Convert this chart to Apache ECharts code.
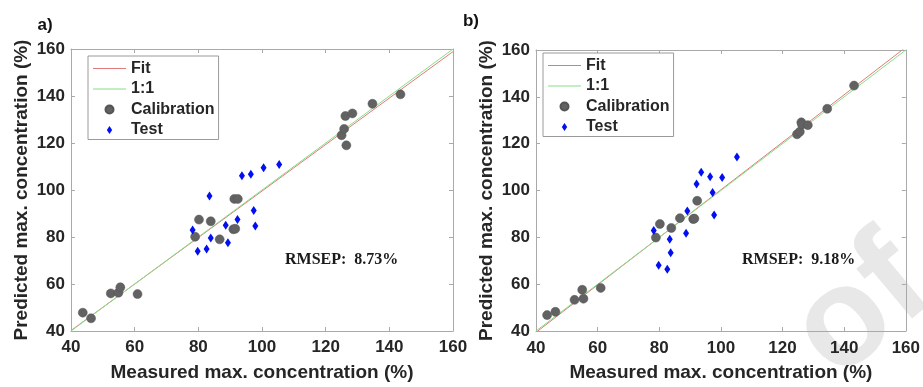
<!DOCTYPE html>
<html>
<head>
<meta charset="utf-8">
<script src="https://cdn.jsdelivr.net/npm/echarts@6/dist/echarts.min.js"></script>
<style>
html,body{margin:0;padding:0;background:#fff;}
#chart{width:923px;height:387px;}
</style>
</head>
<body>
<div id="chart"></div>
<script>
// ---- data ----
const panelLabels = ['a)', 'b)'];
const rmsepLabels = ['RMSEP:  8.73%', 'RMSEP:  9.18%'];
const xTitle = 'Measured max. concentration (%)';
const yTitle = 'Predicted max. concentration (%)';
const legendNames = ['Fit', '1:1', 'Calibration', 'Test'];

const calA = [[43.7,47.8],[46.3,45.4],[52.5,56.0],[54.9,56.3],[55.5,58.6],[60.9,55.7],[79.0,80.1],[80.2,87.4],[83.9,86.7],[86.7,79.0],[91.0,83.3],[91.6,83.5],[91.3,96.2],[92.4,96.2],[125.0,123.3],[125.8,126.0],[126.2,131.5],[126.5,119.0],[128.4,132.6],[134.7,136.7],[143.5,140.7]];
const testA = [[78.2,83.0],[79.8,73.9],[82.6,74.9],[83.5,97.4],[83.9,79.6],[88.6,85.0],[89.3,77.6],[92.3,87.4],[93.7,106.1],[96.5,106.7],[97.4,91.3],[97.9,84.7],[100.5,109.5],[105.4,110.8]];
const fitA = [[40,40.2],[160,158.9]];

const calB = [[43.6,46.8],[46.3,48.2],[52.5,53.3],[55.0,57.6],[55.4,53.8],[61.0,58.4],[78.9,79.9],[80.2,85.7],[83.9,84.0],[86.7,88.2],[91.0,87.8],[91.4,88.0],[92.3,95.6],[124.7,124.0],[125.6,125.1],[126.1,129.1],[126.3,128.2],[128.2,127.9],[134.5,134.9],[143.2,144.8]];
const testB = [[78.2,82.9],[79.8,68.1],[82.6,66.4],[83.4,79.2],[83.7,73.4],[88.7,81.7],[89.1,91.2],[92.1,102.8],[93.6,107.8],[96.5,105.9],[97.3,99.1],[97.8,89.5],[100.4,105.6],[105.2,114.3]];
const fitB = [[40,39.4],[160,161.2]];

const oneToOne = [[40,40],[160,160]];
const axisMin = 40, axisMax = 160, axisStep = 20;

// ---- styling ----
const AX = '#a9a9a9';
const TXT = '#262626';
const SANS = 'Liberation Sans, Arial, sans-serif';
const FIT_C = '#e07a7a';
const ONE_C = '#86df86';
const CAL_C = '#626262';
const TEST_C = '#0010f0';
const diamond = 'path://M3,0L6,4.5L3,9L0,4.5Z';
const lineIcon = 'path://M0,0H33V1.2H0Z';

const grids = [
  {left: 71, top: 49, width: 382, height: 282},
  {left: 536, top: 50, width: 374, height: 288}
];

function xAxes(gi, labelMargin) {
  return [
    {gridIndex: gi, type: 'value', min: axisMin, max: axisMax, interval: axisStep, position: 'bottom',
     name: xTitle, nameLocation: 'middle', nameGap: 32,
     nameTextStyle: {color: TXT, fontFamily: SANS, fontWeight: 'bold', fontSize: 19},
     axisLine: {show: true, lineStyle: {color: AX, width: 1}},
     axisTick: {show: true, inside: true, length: 4, lineStyle: {color: AX}},
     axisLabel: {color: TXT, fontFamily: SANS, fontWeight: 'bold', fontSize: 17, margin: labelMargin},
     splitLine: {show: false}},
    {gridIndex: gi, type: 'value', min: axisMin, max: axisMax, interval: axisStep, position: 'top',
     axisLine: {show: true, lineStyle: {color: AX, width: 1}},
     axisTick: {show: true, inside: true, length: 4, lineStyle: {color: AX}},
     axisLabel: {show: false}, splitLine: {show: false}}
  ];
}
function yAxes(gi, nameGap) {
  return [
    {gridIndex: gi, type: 'value', min: axisMin, max: axisMax, interval: axisStep, position: 'left',
     name: yTitle, nameLocation: 'middle', nameGap: nameGap,
     nameTextStyle: {color: TXT, fontFamily: SANS, fontWeight: 'bold', fontSize: 19},
     axisLine: {show: true, lineStyle: {color: AX, width: 1}},
     axisTick: {show: true, inside: true, length: 4, lineStyle: {color: AX}},
     axisLabel: {color: TXT, fontFamily: SANS, fontWeight: 'bold', fontSize: 17, margin: 6},
     splitLine: {show: false}},
    {gridIndex: gi, type: 'value', min: axisMin, max: axisMax, interval: axisStep, position: 'right',
     axisLine: {show: true, lineStyle: {color: AX, width: 1}},
     axisTick: {show: true, inside: true, length: 4, lineStyle: {color: AX}},
     axisLabel: {show: false}, splitLine: {show: false}}
  ];
}

function panelSeries(gi, fit, cal, test) {
  const xi = gi * 2, yi = gi * 2;
  return [
    {name: 'Fit', type: 'line', xAxisIndex: xi, yAxisIndex: yi, data: fit, symbol: 'none', showSymbol: false,
     color: FIT_C, lineStyle: {color: FIT_C, width: 1}, itemStyle: {color: FIT_C}, z: 2, silent: true},
    {name: '1:1', type: 'line', xAxisIndex: xi, yAxisIndex: yi, data: oneToOne, symbol: 'none', showSymbol: false,
     color: ONE_C, lineStyle: {color: ONE_C, width: 1}, itemStyle: {color: ONE_C}, z: 3, silent: true},
    {name: 'Calibration', type: 'scatter', xAxisIndex: xi, yAxisIndex: yi, data: cal, symbol: 'circle',
     symbolSize: 9, itemStyle: {color: CAL_C, opacity: 1, borderColor: '#555', borderWidth: 0.5}, z: 4},
    {name: 'Test', type: 'scatter', xAxisIndex: xi, yAxisIndex: yi, data: test, symbol: diamond,
     symbolSize: [6, 9], symbolKeepAspect: false, itemStyle: {color: TEST_C, opacity: 1}, z: 5}
  ];
}

function legendFor(left, top) {
  return {
    show: true, type: 'plain',
    left: left, top: top, orient: 'vertical',
    data: [
      {name: legendNames[0], icon: lineIcon, itemStyle: {color: FIT_C, borderWidth: 0}},
      {name: legendNames[1], icon: lineIcon, itemStyle: {color: ONE_C, borderWidth: 0}},
      {name: legendNames[2], icon: 'circle', itemStyle: {color: CAL_C}},
      {name: legendNames[3], icon: diamond, itemStyle: {color: TEST_C}}
    ],
    itemWidth: 33, itemHeight: 8, itemGap: 3.5,
    padding: [4, 4, 1, 5],
    borderColor: '#9a9a9a', borderWidth: 1, backgroundColor: '#fff',
    textStyle: {color: TXT, fontFamily: SANS, fontWeight: 'bold', fontSize: 16, lineHeight: 17},
    selectedMode: false
  };
}

const chart = echarts.init(document.getElementById('chart'), null, {renderer: 'canvas'});
chart.setOption({
  backgroundColor: '#fff',
  animation: false,
  grid: grids,
  xAxis: [...xAxes(0, 8), ...xAxes(1, 9)],
  yAxis: [...yAxes(0, 40), ...yAxes(1, 40)],
  legend: [legendFor(88, 56), legendFor(543, 53)],
  series: [...panelSeries(0, fitA, calA, testA), ...panelSeries(1, fitB, calB, testB)],
  graphic: [
    {type: 'text', z: -10, x: 958, y: 321, rotation: 40 * Math.PI / 180, silent: true,
     style: {text: 'of', font: 'bold 140px Liberation Sans, Arial, sans-serif', fill: '#e8e8e8',
             align: 'right', verticalAlign: 'bottom'}},
    {type: 'text', x: 45, y: 25, style: {text: panelLabels[0], font: 'bold 17px Liberation Sans, Arial', fill: '#111', align: 'center', verticalAlign: 'middle'}},
    {type: 'text', x: 471, y: 21, style: {text: panelLabels[1], font: 'bold 17px Liberation Sans, Arial', fill: '#111', align: 'center', verticalAlign: 'middle'}},
    {type: 'text', x: 285, y: 260, style: {text: rmsepLabels[0], font: 'bold 16px Liberation Serif, Times New Roman, serif', fill: '#1a1a1a', align: 'left', verticalAlign: 'middle'}},
    {type: 'text', x: 742, y: 260, style: {text: rmsepLabels[1], font: 'bold 16px Liberation Serif, Times New Roman, serif', fill: '#1a1a1a', align: 'left', verticalAlign: 'middle'}}
  ]
});
</script>
</body>
</html>
